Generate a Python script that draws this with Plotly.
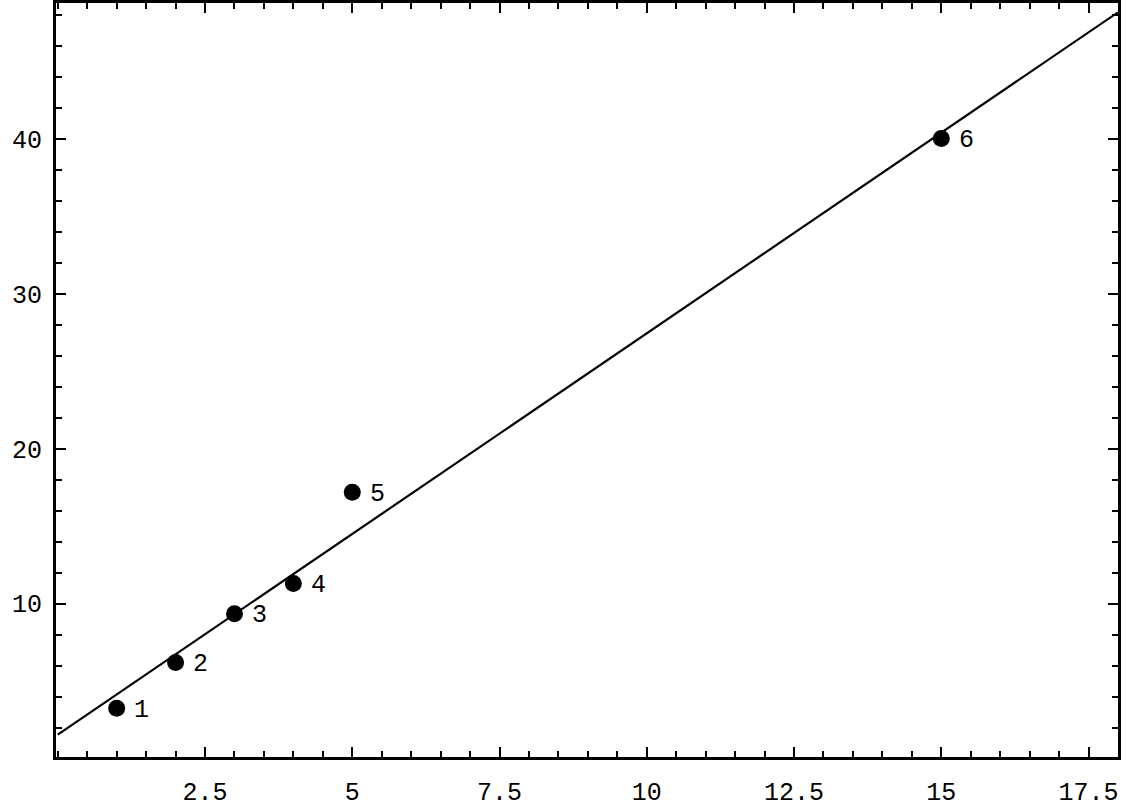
import plotly.graph_objects as go

# Data points (index, x, y)
point_labels = ["1", "2", "3", "4", "5", "6"]
point_x = [1, 2, 3, 4, 5, 15]
point_y = [3.25, 6.2, 9.35, 11.3, 17.2, 40.05]

# Fitted line endpoints
line_x = [0, 18]
line_y = [1.55, 48.2]

x_tickvals = [2.5, 5, 7.5, 10, 12.5, 15, 17.5]
x_ticktext = ["2.5", "5", "7.5", "10", "12.5", "15", "17.5"]
y_tickvals = [10, 20, 30, 40]
y_ticktext = ["10", "20", "30", "40"]

X_RANGE = [-0.03, 18.0]
Y_RANGE = [0.1, 48.8]

FONT = "Liberation Mono"
FSIZE = 25

fig = go.Figure()
fig.add_trace(go.Scatter(x=line_x, y=line_y, mode="lines",
                         line=dict(color="black", width=2.2), showlegend=False,
                         hoverinfo="skip"))
fig.add_trace(go.Scatter(x=point_x, y=point_y, mode="markers",
                         marker=dict(color="black", size=17), showlegend=False))
# invisible trace to anchor top/right tick axes
fig.add_trace(go.Scatter(x=line_x, y=line_y, xaxis="x2", yaxis="y2", mode="lines",
                         line=dict(color="rgba(0,0,0,0)"), showlegend=False,
                         hoverinfo="skip"))

for lab, xv, yv in zip(point_labels, point_x, point_y):
    fig.add_annotation(x=xv, y=yv, text=lab, showarrow=False, xshift=25, yshift=-2,
                       font=dict(family=FONT, size=FSIZE, color="black"))

common = dict(
    showgrid=False, zeroline=False, showline=True, linecolor="black", linewidth=3,
    ticks="inside", ticklen=10, tickwidth=2, tickcolor="black", automargin=False,
    tickfont=dict(family=FONT, size=FSIZE, color="black"),
)
xminor = dict(dtick=0.5, tick0=0, ticks="inside", ticklen=6, tickwidth=2,
              tickcolor="black", showgrid=False)
yminor = dict(dtick=2, tick0=0, ticks="inside", ticklen=6, tickwidth=2,
              tickcolor="black", showgrid=False)

fig.update_layout(
    width=1127, height=811,
    margin=dict(l=56, r=9, t=3, b=54),
    plot_bgcolor="white", paper_bgcolor="white",
    xaxis=dict(range=X_RANGE, tickvals=x_tickvals, ticktext=x_ticktext,
               minor=xminor, ticklabelstandoff=10, **common),
    yaxis=dict(range=Y_RANGE, tickvals=y_tickvals, ticktext=y_ticktext,
               minor=yminor, ticklabelstandoff=6, **common),
    xaxis2=dict(range=X_RANGE, tickvals=x_tickvals, ticktext=x_ticktext,
                minor=xminor, overlaying="x", side="top", anchor="y2",
                showticklabels=False, **common),
    yaxis2=dict(range=Y_RANGE, tickvals=y_tickvals, ticktext=y_ticktext,
                minor=yminor, overlaying="y", side="right", anchor="x2",
                showticklabels=False, **common),
)

fig.write_html("out.html", config={"displayModeBar": False},
               post_script="document.body.style.margin='0';document.body.style.overflow='hidden';")
